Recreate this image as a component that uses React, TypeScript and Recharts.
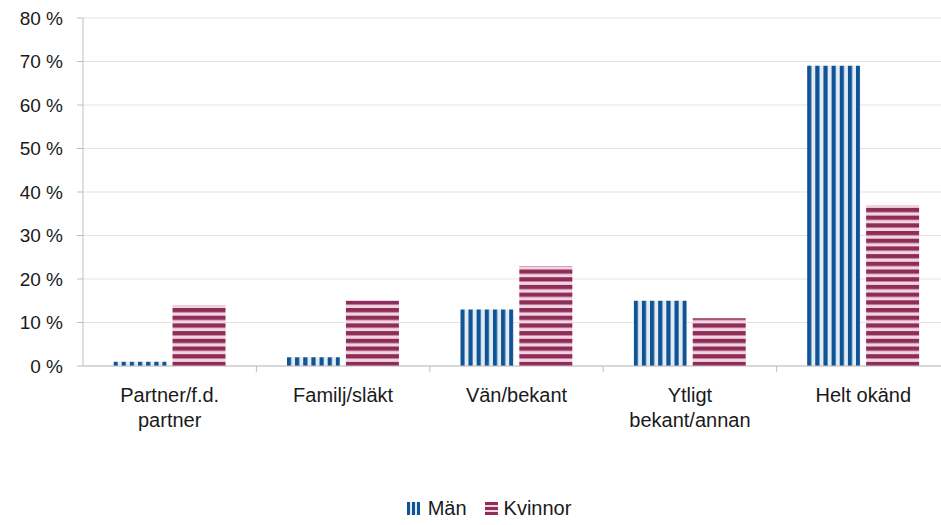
import { BarChart, Bar, XAxis, YAxis, CartesianGrid, Legend } from "recharts";

const categories = [["Partner/f.d.", "partner"], ["Familj/släkt"], ["Vän/bekant"], ["Ytligt", "bekant/annan"], ["Helt okänd"]];
const man = [1, 2, 13, 15, 69];
const kvinnor = [14, 15, 23, 11, 37];
const yTicks = [0, 10, 20, 30, 40, 50, 60, 70, 80];

const BLUE = "#0f5596";
const BLUE_LIGHT = "#e3ebf5";
const PINK = "#8e2d59";
const PINK_LIGHT = "#f2d4e0";
const FONT = "'Liberation Sans', Arial, Helvetica, sans-serif";

const data = categories.map((c, i) => ({ name: c.join(" "), lines: c, man: man[i], kvinnor: kvinnor[i] }));

const HALF_BAND = 86.7;

const CatTick = (props: any) => {
  const { x, y, payload, index } = props;
  const lines = data[index]?.lines ?? [payload.value];
  return (
    <g>
      <line x1={x + HALF_BAND} x2={x + HALF_BAND} y1={y - 8} y2={y - 2} stroke="#bfbfbf" />
      {lines.map((l: string, i: number) => (
        <text key={i} x={x} y={y + 28 + i * 25} textAnchor="middle" fontSize={20} fill="#1a1a1a" fontFamily={FONT}>
          {l}
        </text>
      ))}
    </g>
  );
};

const LegendContent = () => (
  <div style={{ display: "flex", justifyContent: "center", alignItems: "center", fontFamily: FONT, fontSize: 20, color: "#1a1a1a", paddingLeft: 28 }}>
    <svg width={13} height={13} style={{ marginRight: 8 }}>
      <rect width={13} height={13} fill={BLUE_LIGHT} />
      <rect x={0} width={3} height={13} fill={BLUE} />
      <rect x={5} width={3} height={13} fill={BLUE} />
      <rect x={10} width={3} height={13} fill={BLUE} />
    </svg>
    <span style={{ marginRight: 18 }}>Män</span>
    <svg width={13} height={13} style={{ marginRight: 6 }}>
      <rect width={13} height={13} fill={PINK_LIGHT} />
      <rect y={0} width={13} height={3} fill={PINK} />
      <rect y={5} width={13} height={3} fill={PINK} />
      <rect y={10} width={13} height={3} fill={PINK} />
    </svg>
    <span>Kvinnor</span>
  </div>
);

export default function App() {
  return (
    <div style={{ position: "absolute", left: 0, top: 0, width: 941, height: 525, overflow: "hidden", background: "#fff" }}>
      <svg width={0} height={0} style={{ position: "absolute" }}>
        <defs>
          <pattern id="manPat" patternUnits="objectBoundingBox" width={1 / 6.5} height={1}>
            <rect x={0} y={0} width={20} height={1000} fill={BLUE_LIGHT} />
            <rect x={0} y={0} width={4.2} height={1000} fill={BLUE} />
          </pattern>
          <pattern id="kvPat" patternUnits="userSpaceOnUse" width={20} height={7.7}>
            <rect x={0} y={0} width={20} height={7.7} fill={PINK_LIGHT} />
            <rect x={0} y={0} width={20} height={4.3} fill={PINK} />
          </pattern>
        </defs>
      </svg>
      <BarChart
        width={950}
        height={525}
        data={data}
        margin={{ top: 18, right: 0, left: 0, bottom: 0 }}
        barCategoryGap="17.6%"
        barGap={6}
      >
        <CartesianGrid vertical={false} stroke="#e3e3e3" />
        <XAxis
          dataKey="name"
          interval={0}
          tickLine={false}
          axisLine={{ stroke: "#bfbfbf" }}
          tick={<CatTick />}
          height={131}
        />
        <YAxis
          domain={[0, 80]}
          ticks={yTicks}
          tickFormatter={(v) => `${v} %`}
          width={83}
          tickSize={6}
          tickMargin={14}
          axisLine={{ stroke: "#bfbfbf" }}
          tickLine={{ stroke: "#bfbfbf" }}
          tick={{ fontSize: 19, fill: "#1a1a1a", fontFamily: FONT }}
          interval={0}
        />
        <Legend verticalAlign="bottom" height={28} content={<LegendContent />} />
        <Bar dataKey="man" name="Män" fill="url(#manPat)" isAnimationActive={false} />
        <Bar dataKey="kvinnor" name="Kvinnor" fill="url(#kvPat)" isAnimationActive={false} />
      </BarChart>
    </div>
  );
}
